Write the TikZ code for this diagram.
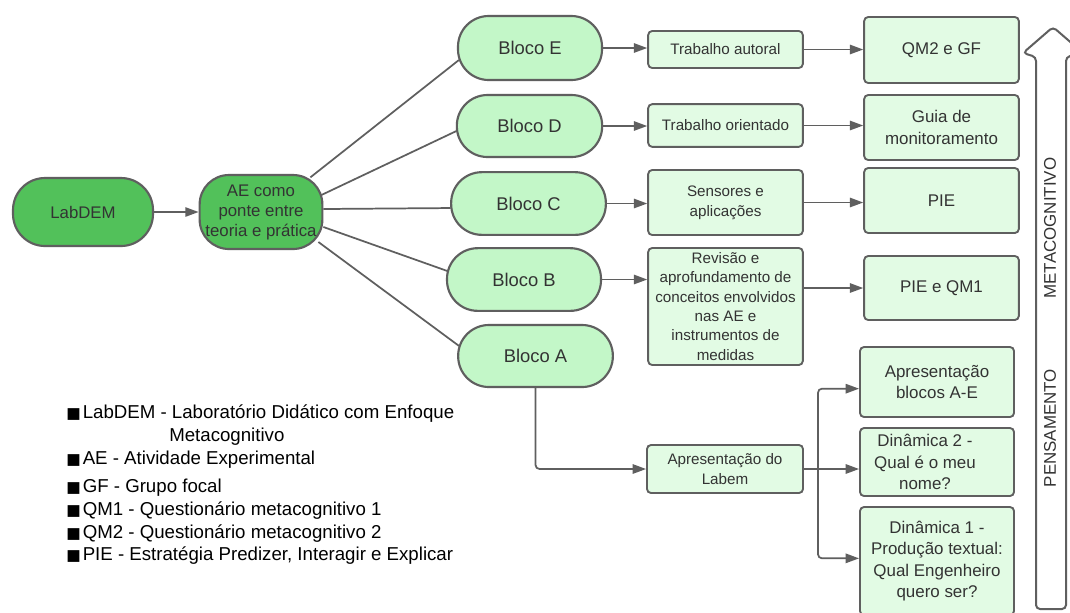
\documentclass[tikz,border=0pt]{standalone}
\usepackage{fontspec}
\setmainfont{Liberation Sans}
\newfontfamily\symfont{DejaVu Sans}
\usetikzlibrary{arrows.meta,backgrounds}
\definecolor{dg}{HTML}{52C15A}
\definecolor{lg}{HTML}{C3F7C8}
\definecolor{pg}{HTML}{E2FBE4}
\definecolor{ln}{HTML}{5F5F5F}
\definecolor{tx}{HTML}{333333}
\newcommand{\sq}{{\symfont\fontsize{11.5}{12}\selectfont ■}\hspace{1.5pt}}
\begin{document}
\begin{tikzpicture}[x=0.75pt,y=-0.75pt,
 main/.style={draw=ln, line width=1.6pt, fill=dg, rounded corners=24pt, text=tx, align=center, font=\fontsize{12.6}{15}\selectfont, inner sep=0pt},
 bloco/.style={draw=ln, line width=1.6pt, fill=lg, rounded corners=23pt, text=tx, font=\fontsize{13.8}{16}\selectfont, inner sep=0pt},
 mid/.style={draw=ln, line width=1.4pt, fill=pg, rounded corners=3pt, minimum width=116pt, text=tx, align=center, font=\fontsize{11.4}{15}\selectfont, inner sep=0pt},
 res/.style={draw=ln, line width=1.4pt, fill=pg, rounded corners=3pt, minimum width=116pt, text=tx, align=center, font=\fontsize{12.7}{16}\selectfont, inner sep=0pt},
 arr/.style={draw=ln, line width=1.3pt, -{Triangle[length=10pt,width=7pt]}},
 conn/.style={draw=ln, line width=1.3pt},
 leg/.style={anchor=base west, inner sep=0pt, font=\fontsize{14}{17}\selectfont},
 vtext/.style={rotate=90, text=tx, font=\fontsize{12.7}{15}\selectfont, inner sep=0pt},
]
\clip (0,0) rectangle (1070,612);

% main nodes
\node[main, minimum width=105pt, minimum height=51pt] (lab) at (83,212) {LabDEM};
\node[main, minimum width=92pt, minimum height=55.5pt, rounded corners=22pt] (ae) at (261,212) {AE como\\ponte entre\\teoria e prática};

% blocos
\node[bloco, minimum width=108pt, minimum height=48pt] (be) at (530,48) {Bloco E};
\node[bloco, minimum width=109pt, minimum height=46.5pt] (bd) at (529.5,126) {Bloco D};
\node[bloco, minimum width=116pt, minimum height=47pt] (bc) at (528.5,203.5) {Bloco C};
\node[bloco, minimum width=115.5pt, minimum height=47pt] (bb) at (524,279.5) {Bloco B};
\node[bloco, minimum width=116pt, minimum height=46.5pt] (ba) at (535.5,356) {Bloco A};

% middle boxes
\node[mid, minimum height=27.75pt] (ta) at (725.5,49.5) {Trabalho autoral};
\node[mid, minimum height=32pt] (to) at (725.5,125.5) {Trabalho orientado};
\node[mid, minimum height=48.75pt] (sa) at (725.5,202.5) {Sensores e\\aplicações};
\node[mid, minimum height=87.75pt, font=\fontsize{11.4}{14.5}\selectfont] (rv) at (725.5,306.5) {Revisão e\\aprofundamento de\\conceitos envolvidos\\nas AE e\\instrumentos de\\medidas};
\node[mid, minimum width=117pt, minimum height=36pt] (lb) at (725,469) {Apresentação do\\Labem};

% result boxes
\node[res, minimum height=49.5pt] (qg) at (941.5,50) {QM2 e GF};
\node[res, minimum height=48.75pt] (gm) at (941.5,127.5) {Guia de\\monitoramento};
\node[res, minimum height=48.75pt] (pie) at (941.5,200.5) {PIE};
\node[res, minimum height=48pt] (pq) at (941.5,288) {PIE e QM1};
\node[res, minimum width=115.5pt, minimum height=52.5pt] (ab) at (937,382) {Apresentação\\blocos A-E};
\node[res, minimum width=115.5pt, minimum height=51pt] (d2) at (937,462) {\mbox{Dinâmica 2 -\kern18pt}\\\mbox{Qual é o meu\kern18pt}\\\mbox{nome?\kern18pt}};
\node[res, minimum width=115.5pt, minimum height=81pt] (d1) at (937,561) {Dinâmica 1 -\\Produção textual:\\Qual Engenheiro\\quero ser?};

% connectors
\begin{pgfonlayer}{background}
\fill[white] (0,0) rectangle (1070,612);
\draw[conn] ([xshift=-9.75pt,yshift=26pt]ae.east) -- ([xshift=1.5pt,yshift=-9pt]be.west);
\draw[conn] ([xshift=-1.5pt,yshift=12.75pt]ae.east) -- ([xshift=0.5pt,yshift=-3.75pt]bd.west);
\draw[conn] ([yshift=2.25pt]ae.east) -- ([xshift=0.3pt,yshift=-3.4pt]bc.west);
\draw[conn] ([yshift=-11.25pt]ae.east) -- ([xshift=1pt,yshift=6.4pt]bb.west);
\draw[conn] ([xshift=-3.75pt,yshift=-22.5pt]ae.east) -- ([xshift=1.5pt,yshift=7.5pt]ba.west);
\end{pgfonlayer}
\draw[arr] (lab) -- (ae);
\draw[arr] (be.east) -- (be.east -| ta.west);
\draw[arr] (bd.east) -- (bd.east -| to.west);
\draw[arr] (bc.east) -- (bc.east -| sa.west);
\draw[arr] (bb.east) -- (bb.east -| rv.west);
\draw[arr] (ta.east) -- (ta.east -| qg.west);
\draw[arr] (to.east) -- (to.east -| gm.west);
\draw[arr] (sa.east) -- (sa.east -| pie.west);
\draw[arr] (pq.west -| rv.east) -- (pq.west);
\draw[arr, rounded corners=3pt] (ba.south) |- (lb.west);
\draw[arr] (lb.east) -- (lb.east -| d2.west);
\coordinate (br) at (818,469);
\draw[arr, rounded corners=3pt] (br) |- ([yshift=-5pt]ab.west);
\draw[arr, rounded corners=3pt] (br) |- ([yshift=2pt]d1.west);

% big arrow
\draw[draw=ln, line width=1.5pt, fill=white, rounded corners=3pt]
  (1036,609) -- (1036,57) -- (1023,53) -- (1053,27) -- (1083,53) -- (1066,57) -- (1066,609) -- cycle;
\node[vtext] (meta) at (1050,228) {METACOGNITIVO};
\node[vtext] (pens) at (1050,428) {PENSAMENTO};

% legend
\node[leg] (l1) at (66,418) {\sq LabDEM - Laboratório Didático com Enfoque};
\node[leg] (l1b) at (169,441) {Metacognitivo};
\node[leg] (l2) at (66,464) {\sq AE - Atividade Experimental};
\node[leg] (l3) at (66,492) {\sq GF - Grupo focal};
\node[leg] (l4) at (66,515) {\sq QM1 - Questionário metacognitivo 1};
\node[leg] (l5) at (66,538) {\sq QM2 - Questionário metacognitivo 2};
\node[leg] (l6) at (66,560) {\sq PIE - Estratégia Predizer, Interagir e Explicar};
\end{tikzpicture}
\end{document}
